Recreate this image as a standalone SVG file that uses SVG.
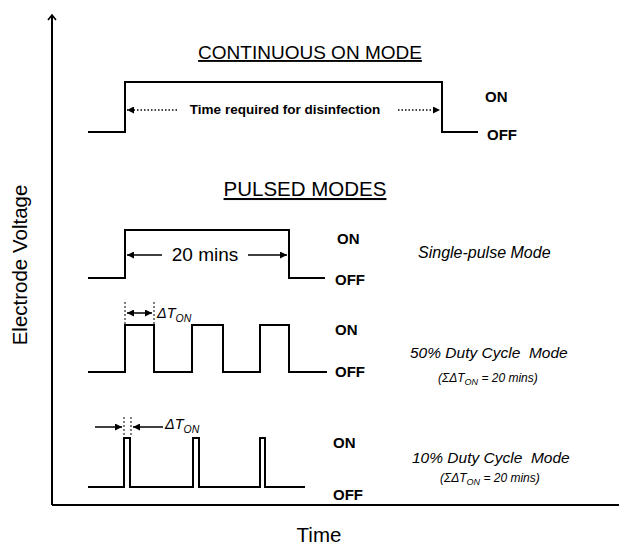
<svg xmlns="http://www.w3.org/2000/svg" width="619" height="545" viewBox="0 0 619 545">
<defs>
<style>
.wave{fill:none;stroke:#000;stroke-width:2}
.axis{fill:none;stroke:#000;stroke-width:2}
.lbl{font-family:"Liberation Sans",Arial,sans-serif;font-weight:bold;font-size:15px;fill:#000}
.title{font-family:"Liberation Sans",Arial,sans-serif;font-size:19px;fill:#000;text-decoration:underline}
.mode{font-family:"Liberation Sans",Arial,sans-serif;font-style:italic;font-size:14px;fill:#000}
.sub{font-family:"Liberation Sans",Arial,sans-serif;font-style:italic;font-size:10.5px;fill:#000}
.ax{font-family:"Liberation Sans",Arial,sans-serif;font-size:20.5px;fill:#000}
.arr{fill:none;stroke:#000;stroke-width:1.5}
.dot{fill:none;stroke:#000;stroke-width:1.5;stroke-dasharray:1.5 2}
.vdot{fill:none;stroke:#000;stroke-width:1;stroke-dasharray:2 2}
</style>
<marker id="ah" viewBox="0 0 10 10" refX="10" refY="5" markerWidth="7" markerHeight="7" orient="auto-start-reverse" markerUnits="userSpaceOnUse">
<path d="M0,0 L10,5 L0,10 z" fill="#000"/>
</marker>
<marker id="open" viewBox="0 0 10 10" refX="5" refY="1" markerWidth="10" markerHeight="10" orient="0" markerUnits="userSpaceOnUse">
<path d="M1,6 L5,1 L9,6" fill="none" stroke="#000" stroke-width="1.6"/>
</marker>
</defs>
<rect width="619" height="545" fill="#fff"/>

<g id="axes">
<path class="axis" d="M52,505 V15" marker-end="url(#open)"/>
<path class="axis" d="M52,505 H619"/>
<text class="ax" transform="translate(27,265) rotate(-90)" text-anchor="middle">Electrode Voltage</text>
<text class="ax" x="319" y="542" text-anchor="middle">Time</text>
</g>

<g id="continuous">
<text class="title" x="310" y="59" text-anchor="middle">CONTINUOUS ON MODE</text>
<path class="wave" d="M88,132 H125 V82 H442 V132 H478"/>
<text class="lbl" x="485" y="102">ON</text>
<text class="lbl" x="487" y="140">OFF</text>
<text x="285" y="114" text-anchor="middle" style="font-family:'Liberation Sans',Arial,sans-serif;font-weight:bold;font-size:13.5px">Time required for disinfection</text>
</g>

<g id="pulsed-title">
<text class="title" x="305" y="196" text-anchor="middle" style="font-size:20.5px">PULSED MODES</text>
</g>

<g id="single-pulse">
<path class="wave" d="M88,278 H125 V230 H289 V278 H325"/>
<text x="205" y="261" text-anchor="middle" style="font-family:'Liberation Sans',Arial,sans-serif;font-size:19px">20 mins</text>
<text class="lbl" x="337" y="244">ON</text>
<text class="lbl" x="335" y="285">OFF</text>
<text class="mode" x="418" y="258" style="font-size:16px">Single-pulse Mode</text>
</g>

<g id="duty50">
<path class="wave" d="M88,372 H125 V325 H154 V372 H192 V325 H223 V372 H260 V325 H289 V372 H327"/>
<path class="vdot" d="M125,302 V324 M154,302 V324"/>
<text class="mode" x="157" y="318" style="font-size:14.5px">ΔT<tspan class="sub" dy="4">ON</tspan></text>
<text class="lbl" x="335" y="335">ON</text>
<text class="lbl" x="335" y="377">OFF</text>
<text class="mode" x="410" y="358" style="font-size:15.5px" xml:space="preserve">50% Duty Cycle  Mode</text>
<text class="mode" x="438" y="382" style="font-size:12px">(ΣΔT<tspan class="sub" dy="3" style="font-size:9px">ON</tspan><tspan dy="-3"> = 20 mins)</tspan></text>
</g>

<g id="duty10">
<path class="wave" d="M88,487 H124 V438 H130 V487 H193 V438 H199 V487 H260 V438 H265 V487 H305"/>
<path class="vdot" d="M124,417 V437 M131,417 V437"/>
<text class="mode" x="165" y="429" style="font-size:14.5px">ΔT<tspan class="sub" dy="4">ON</tspan></text>
<text class="lbl" x="333" y="448">ON</text>
<text class="lbl" x="333" y="500">OFF</text>
<text class="mode" x="412" y="463" style="font-size:15.5px" xml:space="preserve">10% Duty Cycle  Mode</text>
<text class="mode" x="440" y="482" style="font-size:12px">(ΣΔT<tspan class="sub" dy="3" style="font-size:9px">ON</tspan><tspan dy="-3"> = 20 mins)</tspan></text>
</g>

<g id="connectors">
<path class="dot" d="M177,110 H127" marker-end="url(#ah)"/>
<path class="dot" d="M398,110 H440" marker-end="url(#ah)"/>
<path class="arr" d="M162,255 H127" marker-end="url(#ah)"/>
<path class="arr" d="M248,255 H287" marker-end="url(#ah)"/>
<path class="arr" d="M127,313 H152" marker-start="url(#ah)" marker-end="url(#ah)"/>
<path class="arr" d="M95,427 H122" marker-end="url(#ah)"/>
<path class="arr" d="M163,427 H133" marker-end="url(#ah)"/>
</g>
</svg>
